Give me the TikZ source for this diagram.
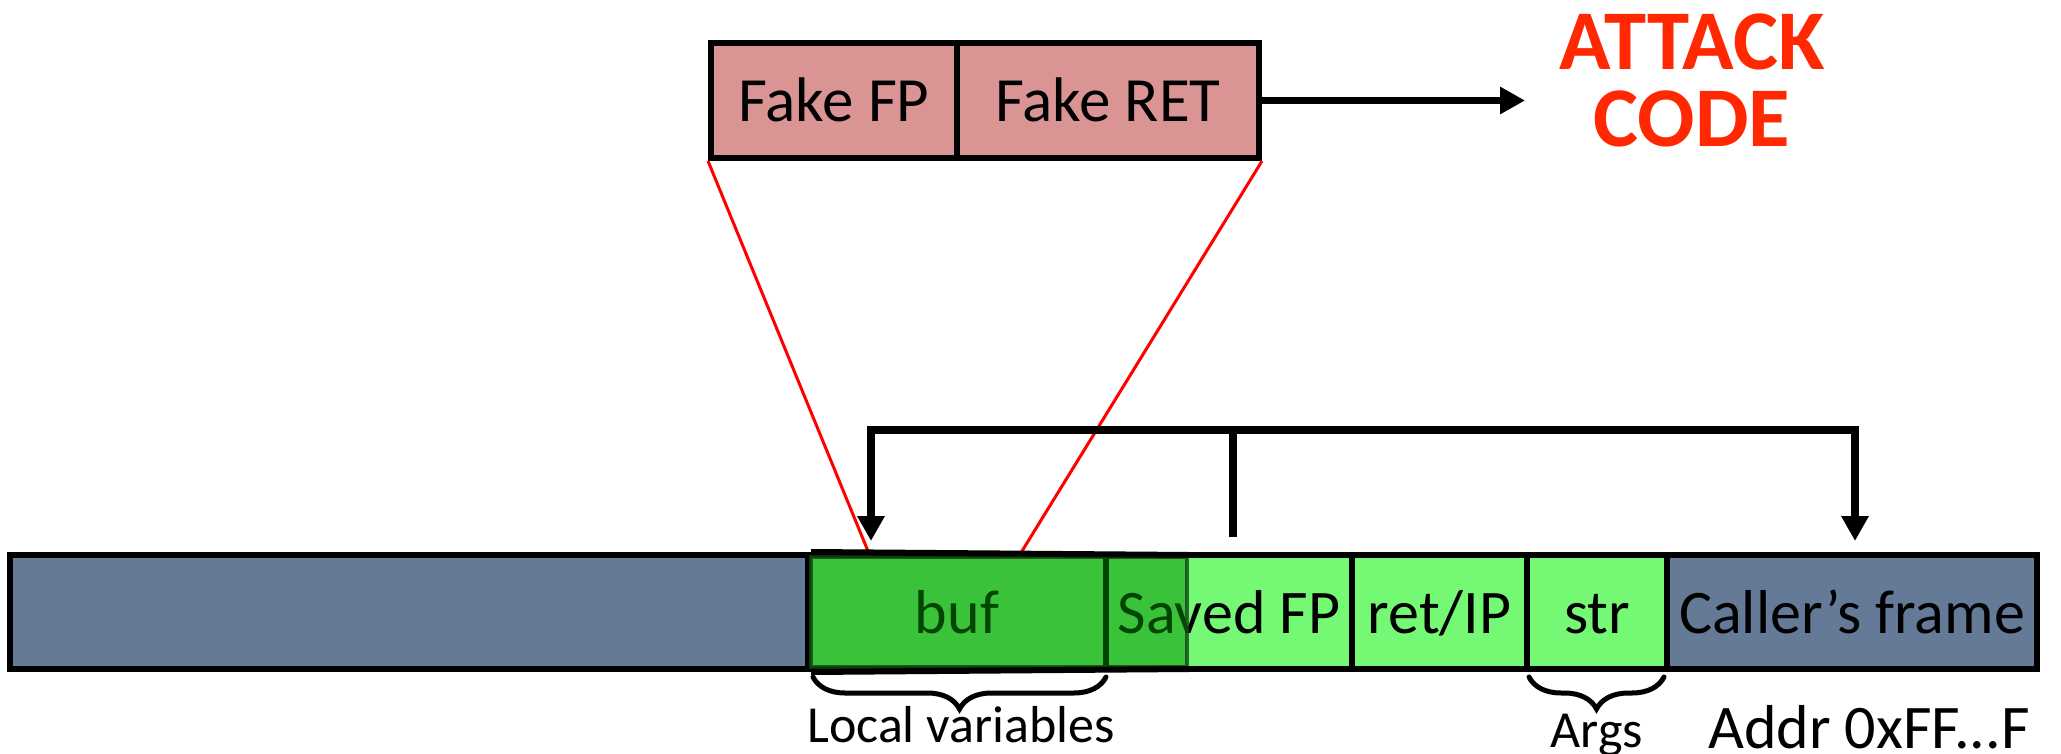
\documentclass[tikz,border=0pt]{standalone}
\usepackage{fontspec}
\setmainfont{Carlito}
\usetikzlibrary{arrows.meta,decorations.pathreplacing}
\definecolor{slate}{RGB}{100,122,150}
\definecolor{lgreen}{RGB}{117,249,117}
\definecolor{ovgreen}{RGB}{0,141,0}
\definecolor{ovborder}{RGB}{20,70,20}
\definecolor{fakepink}{RGB}{218,148,148}
\definecolor{attackred}{RGB}{255,40,0}
\begin{document}
\begin{tikzpicture}[x=1pt,y=-1pt,
  cell/.style={draw=black, line width=6pt, inner sep=0pt, minimum height=114pt,
    text height=44pt, text depth=2pt, font=\fontsize{62}{70}\selectfont},
  fakebox/.style={draw=black, line width=6pt, fill=fakepink, inner sep=0pt,
    minimum height=115pt, text height=44pt, text depth=2pt, font=\fontsize{63}{70}\selectfont},
  redline/.style={draw=red, line width=3pt},
  brk/.style={draw=black, line width=8pt, line join=miter},
  tip/.style={-{Triangle[length=25pt,width=26pt]}},
  bracestyle/.style={draw=black, line width=5pt, line cap=round,
    decorate, decoration={brace, mirror, amplitude=32pt}},
  lbl/.style={inner sep=0pt, anchor=base, font=\fontsize{52}{60}\selectfont}
]
\useasboundingbox (0,0) rectangle (2061,754);

% top fake frame
\node[fakebox, minimum width=246pt] (fakefp) at (834,100.5) {Fake FP};
\node[fakebox, minimum width=302pt] (fakeret) at (1108,100.5) {Fake RET};

% attack code
\node[inner sep=0pt, align=center, text=attackred, font=\bfseries\fontsize{85}{77}\selectfont]
  (attack) at (1692,80) {ATTACK\\CODE};
\coordinate (atip) at (1525,100.5);
\draw[black, line width=7pt, tip] (fakeret.east) -- (atip);

% red projection lines
\coordinate (r1) at (870,556);
\coordinate (r2) at (1019,556);
\draw[redline] (fakefp.south west) -- (r1);
\draw[redline] (fakeret.south east) -- (r2);

% stack bar
\node[cell, fill=slate, minimum width=798pt] (lower) at (409,612) {};
\node[cell, fill=lgreen, minimum width=298pt] (buf) at (957,612) {buf};
\node[cell, fill=lgreen, minimum width=246pt] (sfp) at (1229,612) {Saved FP};
\node[cell, fill=lgreen, minimum width=175pt] (ret) at (1439.5,612) {ret/IP};
\node[cell, fill=lgreen, minimum width=140pt] (str) at (1597,612) {str};
\node[cell, fill=slate, minimum width=370pt] (caller) at (1852,612) {Caller’s frame};

% overflow overlay
\fill[ovgreen, opacity=0.5] (811,557) rectangle (1187,667);
\draw[ovborder, line width=4pt, opacity=0.8] (811,557) rectangle (1187,667);
\draw[black, line width=6pt] (lower.north east) -- (1189,555);
\draw[black, line width=6pt] (lower.south east) -- (1189,669);

% bracket arrows
\coordinate (cj) at (1233,430);
\coordinate (cb) at (1233,537);
\coordinate (tl) at (871,541);
\coordinate (tr) at (1855,541);
\draw[brk] (cb) -- (cj);
\draw[brk, tip] (cj) -| (tl);
\draw[brk, tip] (cj) -| (tr);

% braces and labels
\draw[bracestyle] (813,677) -- (1106,677);
\draw[bracestyle] (1529,677) -- (1664,677);
\node[lbl] (locvars) at (961,742) {Local variables};
\node[lbl] (args) at (1597,747) {Args};
\node[lbl, font=\fontsize{62}{70}\selectfont] (addr) at (1869,748) {Addr 0xFF...F};
\end{tikzpicture}
\end{document}
